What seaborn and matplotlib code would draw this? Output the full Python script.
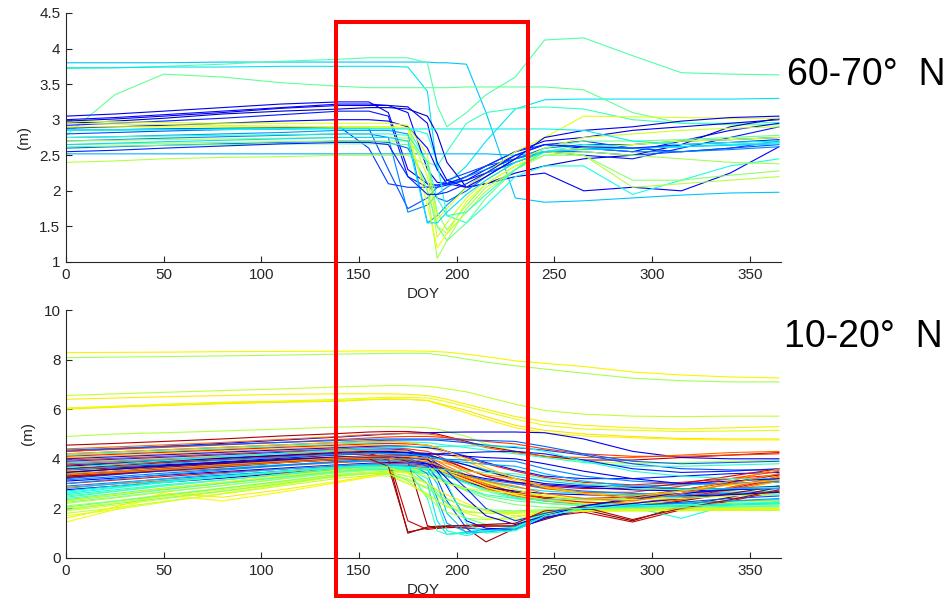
import matplotlib
matplotlib.use("Agg")
import matplotlib.pyplot as plt
from matplotlib.patches import Rectangle
import pandas as pd
import seaborn as sns

# Day-of-year knots shared by every trace
doy = [0, 25, 50, 80, 110, 140, 155, 165, 175, 185, 190, 195, 205, 215, 230,
       245, 265, 290, 315, 340, 365]

# 60-70 N : one list per trace, heights in m at the knots above
north_heights = [
    [3.80, 3.80, 3.80, 3.81, 3.81, 3.81, 3.81, 3.81, 3.81, 3.81, 3.80, 3.80, 3.78, 3.10, 1.90, 1.84, 1.86, 1.90, 1.94, 1.97, 1.98],
    [3.72, 3.73, 3.75, 3.78, 3.82, 3.85, 3.87, 3.87, 3.87, 3.80, 3.20, 2.90, 3.10, 3.35, 3.60, 4.12, 4.15, 3.90, 3.66, 3.64, 3.63],
    [3.73, 3.73, 3.74, 3.74, 3.75, 3.75, 3.75, 3.75, 3.74, 3.40, 2.30, 2.10, 2.35, 2.70, 3.15, 3.28, 3.29, 3.29, 3.29, 3.29, 3.30],
    [2.78, 3.35, 3.64, 3.60, 3.52, 3.47, 3.45, 3.45, 3.45, 3.45, 3.45, 3.45, 3.46, 3.46, 3.46, 3.46, 3.42, 3.10, 2.95, 2.93, 2.93],
    [2.85, 2.86, 2.87, 2.88, 2.89, 2.90, 2.90, 2.90, 2.88, 2.40, 2.35, 2.55, 2.95, 3.10, 3.16, 3.18, 3.15, 3.00, 2.95, 2.95, 2.96],
    [3.05, 3.08, 3.12, 3.17, 3.22, 3.25, 3.25, 3.10, 2.30, 2.10, 2.08, 2.10, 2.20, 2.35, 2.55, 2.70, 2.75, 2.85, 2.90, 2.95, 3.00],
    [3.00, 3.03, 3.07, 3.12, 3.17, 3.22, 3.22, 3.20, 3.10, 2.30, 2.12, 2.10, 2.15, 2.30, 2.50, 2.65, 2.60, 2.55, 2.70, 2.85, 2.95],
    [2.95, 2.98, 3.02, 3.08, 3.12, 3.15, 3.17, 3.17, 3.15, 3.05, 2.80, 2.40, 2.05, 2.10, 2.25, 2.35, 2.45, 2.50, 2.65, 2.90, 3.02],
    [2.92, 2.95, 2.98, 3.02, 3.07, 3.12, 3.12, 3.05, 2.20, 2.05, 2.05, 2.08, 2.15, 2.25, 2.40, 2.55, 2.50, 2.45, 2.60, 2.75, 2.90],
    [2.88, 2.90, 2.92, 2.95, 2.98, 3.00, 3.00, 2.98, 2.90, 2.60, 2.30, 2.10, 2.05, 2.10, 2.20, 2.25, 2.00, 2.05, 2.00, 2.25, 2.62],
    [2.85, 2.86, 2.87, 2.88, 2.89, 2.90, 2.60, 2.10, 2.05, 2.05, 2.08, 2.10, 2.20, 2.35, 2.55, 2.65, 2.70, 2.60, 2.55, 2.60, 2.70],
    [2.80, 2.82, 2.84, 2.86, 2.87, 2.88, 2.88, 2.30, 1.75, 1.90, 2.05, 2.15, 2.25, 2.35, 2.45, 2.55, 2.55, 2.50, 2.55, 2.60, 2.65],
    [2.70, 2.72, 2.74, 2.76, 2.78, 2.80, 2.80, 2.75, 1.70, 1.80, 1.95, 2.05, 2.20, 2.30, 2.45, 2.55, 2.60, 2.55, 2.55, 2.58, 2.62],
    [2.75, 2.76, 2.78, 2.80, 2.82, 2.85, 2.85, 2.85, 2.80, 1.55, 1.65, 1.80, 2.05, 2.25, 2.40, 2.55, 2.60, 2.60, 2.62, 2.65, 2.68],
    [2.60, 2.62, 2.64, 2.66, 2.68, 2.70, 2.70, 2.68, 2.60, 2.10, 1.90, 1.85, 2.00, 2.20, 2.45, 2.60, 2.65, 2.65, 2.70, 2.72, 2.75],
    [2.52, 2.52, 2.52, 2.52, 2.52, 2.52, 2.52, 2.52, 2.52, 2.52, 2.52, 2.52, 2.52, 2.52, 2.50, 2.55, 2.60, 2.65, 2.70, 2.72, 2.75],
    [2.85, 2.85, 2.86, 2.86, 2.87, 2.88, 2.88, 2.88, 2.88, 2.80, 2.40, 1.65, 1.55, 1.80, 2.20, 2.35, 2.35, 1.95, 2.15, 2.35, 2.45],
    [2.70, 2.71, 2.72, 2.73, 2.74, 2.75, 2.75, 2.75, 2.74, 2.00, 1.05, 1.30, 1.75, 2.05, 2.30, 2.50, 2.55, 2.50, 2.45, 2.40, 2.38],
    [2.95, 2.94, 2.93, 2.92, 2.91, 2.90, 2.90, 2.90, 2.88, 2.20, 1.35, 1.55, 1.90, 2.15, 2.40, 2.60, 2.75, 2.80, 2.85, 2.88, 2.90],
    [2.98, 2.97, 2.96, 2.95, 2.95, 2.95, 2.95, 2.95, 2.92, 2.50, 1.60, 1.75, 2.05, 2.25, 2.55, 2.75, 3.05, 3.04, 3.03, 3.02, 3.02],
    [2.40, 2.42, 2.45, 2.47, 2.48, 2.50, 2.50, 2.50, 2.50, 2.35, 1.50, 1.40, 1.70, 2.00, 2.30, 2.55, 2.50, 2.05, 2.10, 2.15, 2.20],
    [2.65, 2.66, 2.67, 2.68, 2.69, 2.70, 2.70, 2.70, 2.70, 2.40, 1.70, 1.45, 1.80, 2.10, 2.35, 2.50, 2.50, 2.15, 2.15, 2.22, 2.28],
    [2.62, 2.63, 2.64, 2.65, 2.66, 2.66, 2.66, 2.66, 2.65, 2.00, 1.50, 1.30, 1.55, 1.90, 2.30, 2.60, 2.70, 2.70, 2.72, 2.75, 2.78],
    [2.90, 2.90, 2.90, 2.90, 2.90, 2.90, 2.90, 2.90, 2.88, 1.80, 1.20, 1.40, 1.85, 2.10, 2.35, 2.55, 2.60, 2.65, 2.70, 2.72, 2.75],
    [2.75, 2.76, 2.77, 2.78, 2.79, 2.80, 2.80, 2.80, 2.78, 2.40, 1.90, 1.65, 1.70, 1.95, 2.30, 2.55, 2.65, 2.60, 2.62, 2.65, 2.68],
    [2.65, 2.67, 2.69, 2.71, 2.73, 2.75, 2.75, 2.75, 2.70, 1.55, 1.55, 1.70, 1.95, 2.15, 2.40, 2.55, 2.58, 2.60, 2.62, 2.64, 2.66],
    [2.98, 3.01, 3.05, 3.10, 3.16, 3.20, 3.20, 3.20, 3.18, 2.95, 2.40, 2.15, 2.05, 2.20, 2.45, 2.75, 2.85, 2.90, 2.98, 3.03, 3.05],
    [2.55, 2.57, 2.60, 2.63, 2.66, 2.68, 2.68, 2.65, 2.20, 1.95, 1.95, 1.98, 2.10, 2.25, 2.50, 2.65, 2.62, 2.60, 2.65, 2.68, 2.72],
    [2.86, 2.86, 2.86, 2.87, 2.87, 2.87, 2.87, 2.87, 2.87, 2.87, 2.87, 2.87, 2.87, 2.87, 2.87, 2.87, 2.85, 2.70, 2.65, 2.68, 2.70],
]
# position of each trace on the jet colour scale
north_jet = [0.32, 0.45, 0.35, 0.47, 0.42, 0.10, 0.13, 0.06, 0.15, 0.12,
             0.18, 0.20, 0.25, 0.27, 0.22, 0.30, 0.38, 0.55, 0.60, 0.62,
             0.57, 0.52, 0.48, 0.64, 0.40, 0.34, 0.10, 0.16, 0.36]

# 10-20 N
tropic_heights = [
    [8.28, 8.29, 8.30, 8.32, 8.33, 8.34, 8.35, 8.35, 8.35, 8.34, 8.32, 8.30, 8.22, 8.12, 7.95, 7.85, 7.72, 7.50, 7.38, 7.30, 7.26],
    [8.08, 8.10, 8.12, 8.15, 8.18, 8.22, 8.24, 8.25, 8.26, 8.25, 8.20, 8.15, 8.02, 7.90, 7.75, 7.62, 7.45, 7.25, 7.15, 7.10, 7.10],
    [6.55, 6.62, 6.68, 6.75, 6.82, 6.90, 6.93, 6.95, 6.95, 6.92, 6.88, 6.82, 6.70, 6.50, 6.20, 5.95, 5.80, 5.72, 5.70, 5.72, 5.72],
    [6.40, 6.45, 6.50, 6.55, 6.60, 6.62, 6.62, 6.62, 6.60, 6.55, 6.48, 6.40, 6.20, 6.00, 5.70, 5.50, 5.35, 5.25, 5.20, 5.25, 5.30],
    [6.05, 6.12, 6.20, 6.28, 6.33, 6.40, 6.45, 6.48, 6.48, 6.45, 6.38, 6.30, 6.10, 5.90, 5.60, 5.35, 5.20, 5.15, 5.10, 5.12, 5.15],
    [6.00, 6.08, 6.15, 6.22, 6.28, 6.32, 6.38, 6.40, 6.40, 6.35, 6.25, 6.15, 5.95, 5.70, 5.35, 5.15, 5.00, 4.90, 4.82, 4.80, 4.80],
    [6.02, 6.10, 6.17, 6.25, 6.30, 6.35, 6.40, 6.42, 6.40, 6.35, 6.22, 6.10, 5.85, 5.60, 5.25, 5.05, 4.92, 4.85, 4.78, 4.76, 4.76],
    [4.90, 5.00, 5.05, 5.12, 5.20, 5.28, 5.30, 5.30, 5.28, 5.25, 5.20, 5.10, 4.90, 4.60, 4.30, 4.10, 3.90, 3.80, 3.85, 3.90, 3.95],
    [4.55, 4.62, 4.70, 4.80, 4.92, 5.02, 5.08, 5.10, 5.10, 5.05, 5.00, 4.90, 4.70, 4.50, 4.30, 4.10, 3.95, 3.95, 4.05, 4.15, 4.25],
    [4.30, 4.40, 4.50, 4.62, 4.75, 4.88, 4.95, 5.00, 5.03, 5.05, 5.06, 5.07, 5.08, 5.08, 5.08, 5.05, 4.80, 4.30, 4.05, 4.00, 4.00],
    [4.40, 4.48, 4.56, 4.66, 4.78, 4.90, 4.98, 5.00, 5.02, 5.00, 4.95, 4.85, 4.65, 4.45, 4.25, 4.10, 4.05, 4.05, 4.15, 4.25, 4.30],
    [4.20, 4.28, 4.36, 4.46, 4.56, 4.66, 4.72, 4.75, 4.76, 4.76, 4.75, 4.72, 4.65, 4.55, 4.45, 4.35, 4.15, 3.80, 3.60, 3.55, 3.55],
    [4.15, 4.22, 4.30, 4.40, 4.50, 4.60, 4.65, 4.68, 4.68, 4.65, 4.60, 4.55, 4.45, 4.35, 4.20, 4.05, 3.85, 3.70, 3.70, 3.75, 3.80],
    [4.10, 4.18, 4.26, 4.36, 4.46, 4.55, 4.60, 4.62, 4.60, 4.55, 4.45, 4.30, 4.05, 3.80, 3.50, 3.25, 3.05, 2.95, 3.05, 3.20, 3.35],
    [4.05, 4.12, 4.20, 4.30, 4.40, 4.50, 4.55, 4.55, 4.52, 4.45, 4.35, 4.20, 3.90, 3.55, 3.10, 2.80, 2.60, 2.55, 2.70, 2.95, 3.20],
    [4.00, 4.08, 4.16, 4.26, 4.36, 4.45, 4.50, 4.52, 4.50, 4.45, 4.40, 4.30, 4.10, 3.85, 3.55, 3.30, 3.20, 3.20, 3.30, 3.40, 3.45],
    [3.95, 4.02, 4.10, 4.20, 4.30, 4.40, 4.45, 4.45, 4.40, 4.30, 4.15, 3.95, 3.60, 3.30, 3.00, 2.80, 2.65, 2.65, 2.90, 3.20, 3.50],
    [3.85, 3.92, 4.00, 4.10, 4.20, 4.30, 4.35, 4.35, 4.30, 4.20, 4.05, 3.85, 3.45, 3.10, 2.75, 2.50, 2.35, 2.30, 2.60, 3.00, 3.40],
    [3.80, 3.88, 3.96, 4.05, 4.14, 4.22, 4.25, 4.25, 4.22, 4.15, 4.05, 3.95, 3.75, 3.55, 3.30, 3.10, 2.95, 2.90, 2.95, 3.00, 3.05],
    [3.75, 3.83, 3.92, 4.02, 4.12, 4.22, 4.27, 4.28, 4.25, 4.18, 4.05, 3.90, 3.60, 3.30, 3.05, 2.90, 2.80, 2.80, 3.00, 3.30, 3.60],
    [3.70, 3.78, 3.86, 3.96, 4.06, 4.16, 4.20, 4.20, 4.15, 4.05, 3.90, 3.70, 3.35, 3.00, 2.65, 2.40, 2.25, 2.20, 2.45, 2.85, 3.25],
    [3.60, 3.68, 3.76, 3.86, 3.96, 4.06, 4.12, 4.15, 4.15, 4.12, 4.05, 3.95, 3.75, 3.50, 3.20, 3.00, 2.90, 2.85, 2.80, 2.80, 2.85],
    [3.55, 3.63, 3.72, 3.82, 3.92, 4.02, 4.08, 4.10, 4.05, 3.95, 3.80, 3.60, 3.25, 2.95, 2.65, 2.45, 2.40, 2.45, 2.75, 3.05, 3.35],
    [3.50, 3.58, 3.66, 3.76, 3.86, 3.96, 4.00, 4.00, 3.95, 3.85, 3.70, 3.55, 3.25, 2.95, 2.60, 2.35, 2.20, 2.10, 2.30, 2.70, 3.10],
    [3.40, 3.48, 3.56, 3.66, 3.76, 3.86, 3.90, 3.92, 3.90, 3.85, 3.75, 3.60, 3.35, 3.10, 2.85, 2.70, 2.60, 2.55, 2.60, 2.65, 2.70],
    [3.30, 3.40, 3.50, 3.60, 3.72, 3.85, 3.90, 3.92, 3.90, 3.80, 3.65, 3.45, 3.10, 2.80, 2.50, 2.30, 2.15, 2.10, 2.35, 2.75, 3.15],
    [3.10, 3.22, 3.34, 3.48, 3.62, 3.76, 3.82, 3.85, 3.85, 3.80, 3.70, 3.55, 3.35, 3.20, 3.05, 2.95, 2.85, 2.75, 2.70, 2.75, 2.80],
    [3.00, 3.14, 3.28, 3.44, 3.58, 3.72, 3.78, 3.80, 3.80, 3.75, 3.65, 3.50, 3.20, 2.90, 2.60, 2.40, 2.25, 2.20, 2.40, 2.80, 3.20],
    [2.90, 3.04, 3.18, 3.34, 3.50, 3.66, 3.72, 3.75, 3.74, 3.70, 3.60, 3.45, 3.30, 3.15, 3.00, 2.85, 2.70, 2.60, 2.55, 2.60, 2.65],
    [2.85, 2.98, 3.12, 3.28, 3.44, 3.60, 3.66, 3.70, 3.70, 3.65, 3.55, 3.40, 3.10, 2.80, 2.50, 2.30, 2.20, 2.20, 2.45, 2.85, 3.30],
    [2.75, 2.90, 3.05, 3.22, 3.40, 3.58, 3.65, 3.68, 3.68, 3.62, 3.50, 3.30, 3.05, 2.85, 2.70, 2.60, 2.55, 2.50, 2.50, 2.55, 2.60],
    [2.55, 2.75, 2.95, 3.15, 3.35, 3.55, 3.62, 3.65, 3.65, 3.60, 3.50, 3.35, 3.05, 2.75, 2.45, 2.30, 2.20, 2.15, 2.20, 2.25, 2.30],
    [2.40, 2.60, 2.82, 3.05, 3.28, 3.50, 3.58, 3.62, 3.60, 3.55, 3.45, 3.30, 3.00, 2.70, 2.40, 2.20, 2.10, 2.05, 2.10, 2.15, 2.20],
    [2.25, 2.45, 2.68, 2.92, 3.18, 3.45, 3.52, 3.55, 3.50, 3.40, 3.25, 3.05, 2.70, 2.40, 2.15, 2.05, 2.00, 2.00, 2.00, 2.05, 2.10],
    [2.10, 2.30, 2.55, 2.82, 3.10, 3.38, 3.45, 3.45, 3.30, 3.00, 2.70, 2.40, 2.05, 1.90, 1.85, 1.90, 1.95, 1.95, 1.95, 1.95, 2.00],
    [1.90, 2.12, 2.38, 2.68, 2.98, 3.30, 3.40, 3.40, 3.20, 2.85, 2.50, 2.20, 1.90, 1.80, 1.80, 1.85, 1.90, 1.92, 1.95, 1.95, 1.95],
    [1.80, 2.02, 2.28, 2.58, 2.90, 3.22, 3.32, 3.30, 3.00, 2.60, 2.30, 2.05, 1.85, 1.80, 1.85, 1.90, 1.90, 1.90, 1.90, 1.92, 1.92],
    [1.45, 1.95, 2.55, 2.30, 2.65, 3.05, 3.25, 3.40, 3.50, 3.55, 3.55, 3.50, 3.30, 3.05, 2.75, 2.50, 2.35, 2.25, 2.25, 2.30, 2.35],
    [1.60, 2.05, 2.62, 2.45, 2.75, 3.10, 3.30, 3.45, 3.55, 3.60, 3.55, 3.45, 3.15, 2.85, 2.55, 2.35, 2.20, 2.15, 2.20, 2.25, 2.30],
    [2.35, 2.55, 2.78, 3.02, 3.26, 3.50, 3.56, 3.58, 3.55, 3.45, 3.30, 3.10, 2.80, 2.55, 2.40, 2.35, 2.35, 2.40, 2.45, 2.50, 2.55],
    [2.05, 2.28, 2.52, 2.80, 3.08, 3.36, 3.45, 3.50, 3.48, 3.40, 3.25, 3.05, 2.75, 2.50, 2.30, 2.20, 2.15, 2.10, 2.10, 2.12, 2.15],
    [3.45, 3.58, 3.70, 3.85, 3.98, 4.08, 4.10, 3.95, 1.00, 1.25, 1.28, 1.30, 1.30, 1.30, 1.28, 1.75, 1.95, 1.50, 2.10, 2.45, 2.85],
    [3.60, 3.72, 3.84, 3.96, 4.08, 4.18, 4.20, 4.05, 1.50, 1.15, 1.20, 1.22, 1.25, 1.28, 1.30, 1.65, 1.85, 1.45, 1.95, 2.30, 2.70],
    [3.30, 3.45, 3.60, 3.75, 3.90, 4.00, 4.05, 4.05, 3.90, 1.30, 1.20, 1.25, 1.20, 0.65, 1.20, 1.55, 2.00, 2.05, 2.30, 2.60, 2.90],
    [2.70, 2.90, 3.10, 3.30, 3.50, 3.68, 3.72, 3.72, 3.65, 3.00, 1.50, 0.95, 1.05, 1.15, 1.25, 1.80, 2.10, 2.15, 2.20, 2.30, 2.35],
    [2.60, 2.82, 3.04, 3.26, 3.48, 3.65, 3.70, 3.70, 3.62, 3.20, 2.20, 1.10, 0.90, 1.10, 1.20, 1.75, 2.05, 2.05, 1.60, 2.15, 2.25],
    [3.00, 3.18, 3.36, 3.54, 3.72, 3.88, 3.92, 3.92, 3.85, 3.40, 2.40, 1.40, 1.05, 1.10, 1.15, 1.70, 2.00, 2.10, 2.20, 2.30, 2.40],
    [3.20, 3.36, 3.52, 3.68, 3.84, 3.98, 4.02, 4.02, 3.95, 3.70, 3.20, 2.30, 1.20, 1.15, 1.15, 1.60, 1.95, 2.10, 2.25, 2.40, 2.50],
    [2.45, 2.68, 2.90, 3.14, 3.38, 3.60, 3.65, 3.65, 3.55, 2.40, 1.10, 0.95, 1.00, 1.10, 1.20, 1.80, 2.05, 2.10, 2.15, 2.20, 2.25],
    [3.35, 3.50, 3.65, 3.80, 3.94, 4.06, 4.10, 4.10, 4.00, 3.80, 3.50, 2.90, 1.50, 1.20, 1.15, 1.60, 2.00, 2.20, 2.40, 2.55, 2.65],
    [2.80, 3.00, 3.20, 3.40, 3.58, 3.74, 3.78, 3.78, 3.70, 3.55, 3.00, 1.80, 1.00, 1.05, 1.15, 1.70, 2.00, 2.05, 2.10, 2.15, 2.20],
    [2.20, 2.42, 2.66, 2.92, 3.20, 3.48, 3.55, 3.50, 3.10, 2.50, 2.10, 1.85, 1.60, 1.55, 1.65, 1.85, 1.90, 1.92, 1.93, 1.95, 1.95],
    [2.00, 2.22, 2.48, 2.76, 3.05, 3.35, 3.45, 3.40, 3.00, 2.55, 2.30, 2.10, 1.80, 1.60, 1.55, 1.80, 1.90, 1.90, 1.92, 1.93, 1.95],
    [2.30, 2.52, 2.75, 3.00, 3.25, 3.50, 3.58, 3.58, 3.45, 3.00, 2.60, 2.20, 1.60, 1.35, 1.40, 1.80, 2.00, 2.05, 2.05, 2.08, 2.10],
    [2.30, 2.55, 2.80, 3.05, 3.30, 3.55, 3.65, 3.65, 3.40, 3.00, 2.75, 2.55, 2.20, 1.90, 1.70, 1.80, 1.90, 1.95, 1.98, 2.00, 2.00],
    [3.90, 3.98, 4.06, 4.16, 4.26, 4.36, 4.40, 4.40, 4.35, 4.10, 3.80, 3.50, 2.80, 2.00, 1.50, 1.80, 2.10, 2.35, 2.60, 2.80, 2.90],
    [3.70, 3.80, 3.90, 4.02, 4.14, 4.26, 4.30, 4.30, 4.25, 4.00, 3.60, 3.20, 2.40, 1.70, 1.35, 1.70, 2.10, 2.40, 2.60, 2.75, 2.85],
    [3.25, 3.38, 3.52, 3.68, 3.85, 4.00, 4.08, 4.12, 4.15, 4.18, 4.20, 4.22, 4.25, 4.28, 4.30, 4.20, 3.95, 3.60, 3.45, 3.50, 3.60],
    [3.65, 3.78, 3.92, 4.08, 4.22, 4.36, 4.42, 4.45, 4.48, 4.50, 4.50, 4.50, 4.52, 4.52, 4.50, 4.30, 3.90, 3.50, 3.30, 3.20, 3.20],
    [3.15, 3.28, 3.42, 3.58, 3.74, 3.90, 3.96, 4.00, 4.02, 4.02, 4.00, 3.98, 3.95, 3.92, 3.90, 3.60, 3.30, 3.10, 3.00, 3.00, 3.10],
    [2.50, 2.70, 2.92, 3.15, 3.38, 3.60, 3.66, 3.68, 3.66, 3.62, 3.58, 3.55, 3.50, 3.45, 3.40, 3.20, 3.00, 2.80, 2.75, 2.80, 2.85],
    [3.45, 3.58, 3.72, 3.88, 4.02, 4.16, 4.22, 4.25, 4.25, 4.22, 4.18, 4.15, 4.10, 4.05, 4.00, 3.80, 3.50, 3.20, 3.00, 3.10, 3.20],
    [4.30, 4.38, 4.46, 4.56, 4.66, 4.78, 4.84, 4.88, 4.90, 4.90, 4.88, 4.85, 4.78, 4.70, 4.60, 4.40, 4.20, 4.10, 4.10, 4.15, 4.20],
    [3.40, 3.50, 3.62, 3.76, 3.90, 4.04, 4.10, 4.12, 4.10, 4.02, 3.92, 3.80, 3.55, 3.35, 3.20, 2.90, 2.60, 2.40, 2.70, 3.10, 3.60],
    [1.70, 1.95, 2.25, 2.60, 2.95, 3.30, 3.42, 3.48, 3.45, 3.30, 3.15, 3.00, 2.80, 2.70, 2.60, 2.50, 2.40, 2.35, 2.40, 2.50, 2.60],
    [3.55, 3.68, 3.80, 3.94, 4.06, 4.18, 4.22, 4.22, 4.18, 4.10, 4.02, 3.95, 3.85, 3.78, 3.70, 3.40, 3.10, 2.90, 2.80, 2.80, 2.80],
    [3.25, 3.40, 3.55, 3.70, 3.85, 3.96, 4.00, 3.70, 1.05, 1.20, 1.25, 1.28, 1.32, 1.35, 1.40, 1.90, 2.05, 1.55, 2.00, 2.35, 2.75],
    [1.95, 2.18, 2.42, 2.70, 3.00, 3.32, 3.40, 3.38, 3.15, 2.80, 2.55, 2.35, 2.10, 1.95, 1.90, 1.95, 2.00, 2.00, 2.02, 2.05, 2.05],
    [4.20, 4.28, 4.36, 4.46, 4.56, 4.66, 4.70, 4.70, 4.65, 4.55, 4.45, 4.30, 4.00, 3.65, 3.20, 2.85, 2.60, 2.50, 2.70, 2.95, 3.15],
    [3.35, 3.45, 3.56, 3.70, 3.84, 3.98, 4.02, 4.02, 3.98, 3.88, 3.75, 3.60, 3.30, 3.10, 2.90, 2.60, 2.40, 2.30, 2.60, 3.00, 3.40],
    [2.65, 2.85, 3.06, 3.28, 3.48, 3.66, 3.70, 3.70, 3.65, 3.55, 3.40, 3.00, 1.40, 1.00, 1.10, 1.70, 2.00, 2.05, 2.10, 2.15, 2.20],
    [4.35, 4.42, 4.50, 4.58, 4.66, 4.74, 4.78, 4.80, 4.80, 4.80, 4.80, 4.78, 4.76, 4.74, 4.70, 4.50, 4.20, 3.90, 3.80, 3.85, 3.90],
]
tropic_jet = [0.65, 0.55, 0.58, 0.66, 0.62, 0.67, 0.65, 0.57, 0.95, 0.10,
              0.80, 0.20, 0.40, 0.88, 0.70, 0.15, 0.85, 0.75, 0.30, 0.92,
              0.78, 0.05, 0.98, 0.72, 0.35, 0.82, 0.12, 0.90, 0.25, 0.80,
              0.08, 0.38, 0.45, 0.50, 0.55, 0.60, 0.58, 0.64, 0.66, 0.42,
              0.48, 1.00, 0.93, 0.97, 0.35, 0.38, 0.28, 0.20, 0.42, 0.12,
              0.32, 0.56, 0.62, 0.45, 0.65, 0.18, 0.08, 0.15, 0.38, 0.25,
              0.45, 0.10, 0.85, 0.75, 0.62, 0.30, 0.96, 0.52, 0.70, 0.78,
              0.40, 0.22]

panel_labels = ["60-70°  N", "10-20°  N"]
x_ticks = [0, 50, 100, 150, 200, 250, 300, 350]
north_yticks = [1, 1.5, 2, 2.5, 3, 3.5, 4, 4.5]
tropic_yticks = [0, 2, 4, 6, 8, 10]


def to_long(heights):
    rows = []
    for i, h in enumerate(heights):
        for d, v in zip(doy, h):
            rows.append((i, d, v))
    return pd.DataFrame(rows, columns=["trace", "DOY", "height"])


def draw_panel(ax, heights, jet_pos, yticks):
    df = to_long(heights)
    jet = plt.get_cmap("jet")
    palette = {i: jet(c) for i, c in enumerate(jet_pos)}
    sns.lineplot(data=df, x="DOY", y="height", hue="trace", palette=palette,
                 estimator=None, sort=False, legend=False, linewidth=0.8,
                 ax=ax)
    ax.set_xlim(0, 366)
    ax.set_ylim(yticks[0], yticks[-1])
    ax.set_xticks(x_ticks)
    ax.set_yticks(yticks)
    ax.set_yticklabels(["%g" % t for t in yticks])
    ax.set_xlabel("DOY", fontsize=11, labelpad=4, color="#262626")
    ax.set_ylabel("(m)", fontsize=11, labelpad=6, color="#262626")
    ax.tick_params(direction="in", length=4, width=0.8, labelsize=11,
                   colors="#262626", pad=4)
    sns.despine(ax=ax)
    for s in ("left", "bottom"):
        ax.spines[s].set_color("#262626")
        ax.spines[s].set_linewidth(0.8)


sns.set_theme(style="ticks")
plt.rcParams["font.family"] = ["Liberation Sans", "DejaVu Sans"]

fig = plt.figure(figsize=(9.49, 5.98), dpi=100)
ax_top = fig.add_axes([0.0695, 0.5619, 0.7535, 0.4164])
ax_bot = fig.add_axes([0.0695, 0.0669, 0.7535, 0.4147])

draw_panel(ax_top, north_heights, north_jet, north_yticks)
draw_panel(ax_bot, tropic_heights, tropic_jet, tropic_yticks)

# latitude band labels
fig.text(0.829, 1 - 85 / 598, panel_labels[0], fontsize=27, color="black",
         ha="left", va="baseline")
fig.text(0.826, 1 - 347 / 598, panel_labels[1], fontsize=27, color="black",
         ha="left", va="baseline")

# red box marking the melt season window
fig.patches.append(Rectangle((336 / 949, 1 - 596.3 / 598), (527.5 - 336) / 949,
                             (596.3 - 22.3) / 598, transform=fig.transFigure,
                             fill=False, edgecolor="red", linewidth=2.9,
                             zorder=10))

fig.savefig("out.png", dpi=100)
